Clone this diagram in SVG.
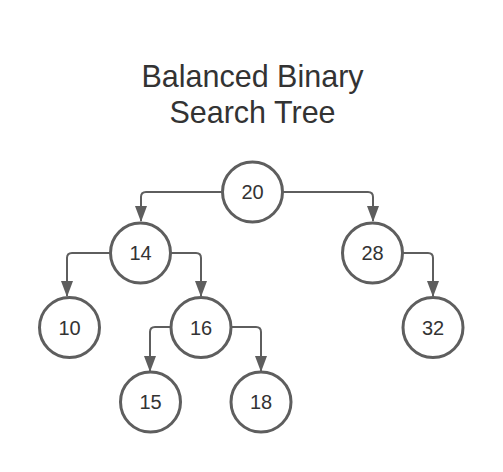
<svg xmlns="http://www.w3.org/2000/svg" width="503" height="472" viewBox="0 0 503 472">
<style>
.node circle{fill:#fff;stroke:#5e5e5e;stroke-width:3}
.node text{font-family:"Liberation Sans",Arial,sans-serif;font-size:20px;fill:#333;text-anchor:middle}
.title{font-family:"Liberation Sans",Arial,sans-serif;font-size:30.5px;fill:#333;text-anchor:middle}
#connectors path{fill:none;stroke:#5e5e5e;stroke-width:2;marker-end:url(#arr)}
</style>
<defs>
<marker id="arr" markerUnits="userSpaceOnUse" markerWidth="16" markerHeight="12" refX="15" refY="6" orient="auto" viewBox="0 0 16 12">
<path d="M0,0 L16,6 L0,12 Z" fill="#5e5e5e"/>
</marker>
</defs>
<rect width="503" height="472" fill="#fff"/>
<g id="title">
<text class="title" x="252.5" y="87">Balanced Binary</text>
<text class="title" x="252.5" y="123">Search Tree</text>
</g>
<g id="connectors">
<path d="M222,192 H146 Q141,192 141,197 V221"/>
<path d="M283,192 H368 Q373,192 373,197 V221"/>
<path d="M110,253 H72 Q67,253 67,258 V296"/>
<path d="M171,253 H196 Q201,253 201,258 V296"/>
<path d="M170,327 H155 Q150,327 150,332 V371"/>
<path d="M232,327 H256 Q261,327 261,332 V371"/>
<path d="M403,253 H428 Q433,253 433,258 V296"/>
</g>
<g id="n20" class="node"><circle cx="252.5" cy="192" r="30"/><text x="252.5" y="199">20</text></g>
<g id="n14" class="node"><circle cx="140.5" cy="253" r="30"/><text x="140.5" y="260">14</text></g>
<g id="n28" class="node"><circle cx="372.5" cy="253" r="30"/><text x="372.5" y="260">28</text></g>
<g id="n10" class="node"><circle cx="69.5" cy="327.5" r="30"/><text x="69.5" y="334.5">10</text></g>
<g id="n16" class="node"><circle cx="201" cy="327.5" r="30"/><text x="201" y="334.5">16</text></g>
<g id="n32" class="node"><circle cx="433" cy="327.5" r="30"/><text x="433" y="334.5">32</text></g>
<g id="n15" class="node"><circle cx="150.5" cy="402" r="30"/><text x="150.5" y="409">15</text></g>
<g id="n18" class="node"><circle cx="261" cy="402" r="30"/><text x="261" y="409">18</text></g>
</svg>
